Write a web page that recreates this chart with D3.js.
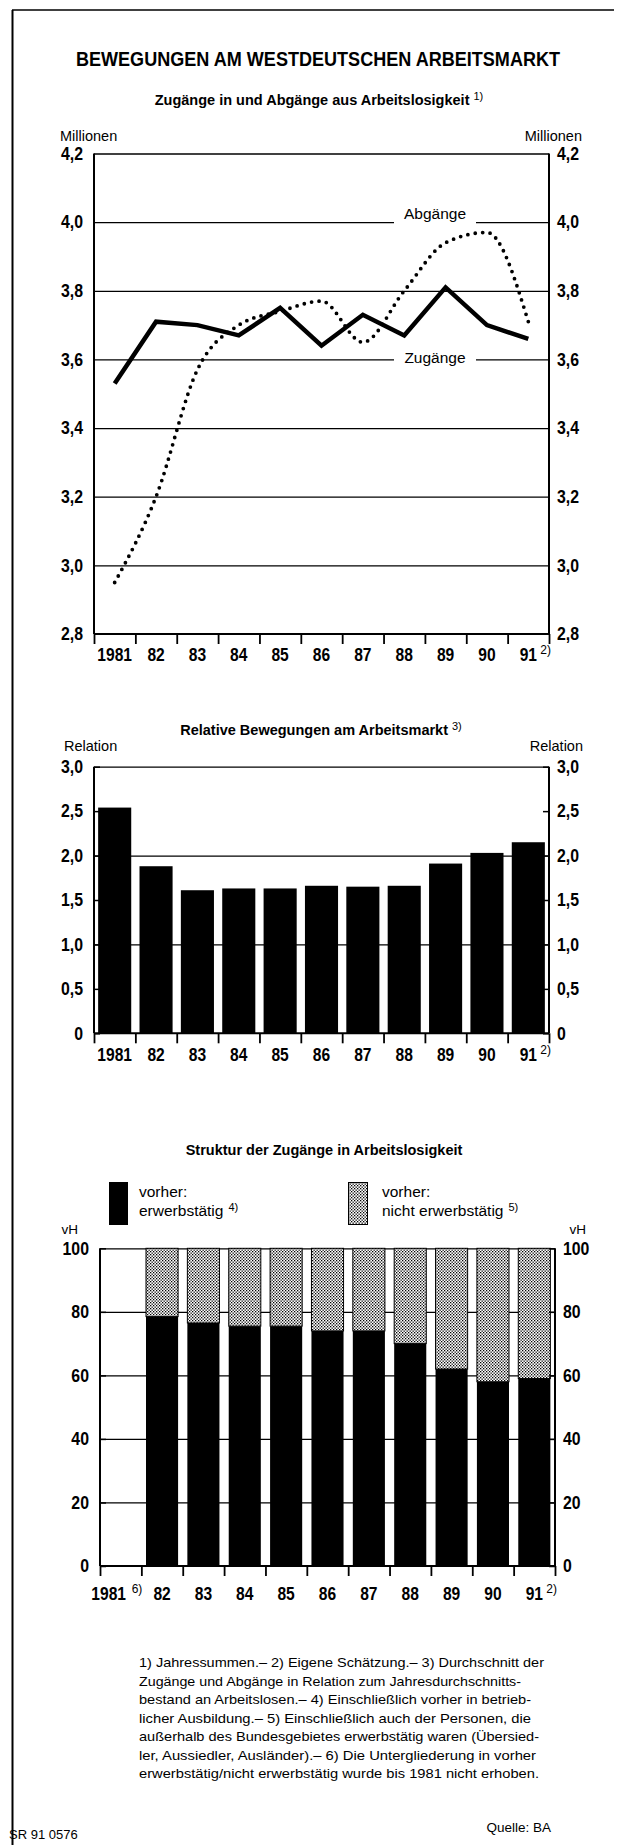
<!DOCTYPE html>
<html><head><meta charset="utf-8">
<script src="https://cdn.jsdelivr.net/npm/d3@7"></script>
<style>body{margin:0;background:#fff}svg{display:block}</style>
</head><body>
<svg id="c" width="624" height="1845"></svg>
<script>
// ---------- DATA ----------
const years = ["1981","82","83","84","85","86","87","88","89","90","91"];
const zugaenge = [3.53, 3.71, 3.70, 3.67, 3.75, 3.64, 3.73, 3.67, 3.81, 3.70, 3.66];
const abgaenge = [2.95, 3.20, 3.57, 3.70, 3.74, 3.77, 3.65, 3.80, 3.94, 3.97, 3.71];
const ticks1 = [2.8, 3.0, 3.2, 3.4, 3.6, 3.8, 4.0, 4.2];
const relation = [2.54, 1.88, 1.61, 1.63, 1.63, 1.66, 1.65, 1.66, 1.91, 2.03, 2.15];
const ticks2 = [0, 0.5, 1.0, 1.5, 2.0, 2.5, 3.0];
const erwerbstaetig = [null, 78.5, 76.5, 75.5, 75.5, 74, 74, 70, 62, 58, 59];
const nichtErwerbstaetig = [null, 21.5, 23.5, 24.5, 24.5, 26, 26, 30, 38, 42, 41];
const ticks3 = [0, 20, 40, 60, 80, 100];
const footnotes = [
  "1) Jahressummen.\u2013 2) Eigene Schätzung.\u2013 3) Durchschnitt der",
  "Zugänge und Abgänge in Relation zum Jahresdurchschnitts-",
  "bestand an Arbeitslosen.\u2013 4) Einschließlich vorher in betrieb-",
  "licher Ausbildung.\u2013 5) Einschließlich auch der Personen, die",
  "außerhalb des Bundesgebietes erwerbstätig waren (Übersied-",
  "ler, Aussiedler, Ausländer).\u2013 6) Die Untergliederung in vorher",
  "erwerbstätig/nicht erwerbstätig wurde bis 1981 nicht erhoben."
];

// ---------- SETUP ----------
const SANS = "'Liberation Sans',Arial,Helvetica,sans-serif";
const svg = d3.select("#c");
const de = (v, d) => v === 0 ? "0" : d3.format("." + d + "f")(v).replace(".", ",");
function condense(sel, f) {
  sel.each(function () {
    const w = this.getComputedTextLength();
    this.setAttribute("textLength", (w * f).toFixed(2));
    this.setAttribute("lengthAdjust", "spacingAndGlyphs");
  });
}

// pattern for "nicht erwerbstätig"
const defs = svg.append("defs");
const pat = defs.append("pattern").attr("id","dots").attr("width",3).attr("height",3)
  .attr("patternUnits","userSpaceOnUse");
pat.append("rect").attr("width",3).attr("height",3).attr("fill","#fff");
pat.append("rect").attr("x",0).attr("y",0).attr("width",1.3).attr("height",1.3).attr("fill","#000");
pat.append("rect").attr("x",1.5).attr("y",1.5).attr("width",1.3).attr("height",1.3).attr("fill","#000");

// frame
svg.append("line").attr("x1",12.5).attr("y1",10).attr("x2",12.5).attr("y2",1845).attr("stroke","#000").attr("stroke-width",2);
svg.append("line").attr("x1",12).attr("y1",10).attr("x2",614).attr("y2",10).attr("stroke","#000").attr("stroke-width",1.3);

// main title (horizontally condensed via transform)
svg.append("g").attr("transform","translate(318,66) scale(0.86,1)")
  .append("text").attr("x",0).attr("y",0).attr("text-anchor","middle")
  .attr("font-family",SANS).attr("font-weight","bold").attr("font-size",21)
  .text("BEWEGUNGEN AM WESTDEUTSCHEN ARBEITSMARKT");

function subtitle(x, y, txt, sup) {
  const t = svg.append("text").attr("x",x).attr("y",y).attr("text-anchor","middle")
    .attr("font-family",SANS).attr("font-weight","bold").attr("font-size",14.5).text(txt);
  if (sup) t.append("tspan").attr("dx",4).attr("dy",-5).attr("font-size",11).attr("font-weight","normal").text(sup);
}

function xAxis(xs, xb, yPos, labelY, sup81) {
  const g = svg.append("g").attr("transform",`translate(0,${yPos})`)
    .call(d3.axisBottom(xb).tickValues(d3.range(years.length + 1)).tickSize(10).tickFormat(""));
  g.select(".domain").remove();
  g.selectAll("line").attr("stroke","#000").attr("stroke-width",1.8);
  const r = xb.range();
  svg.append("line").attr("x1",r[0]).attr("x2",r[1]).attr("y1",yPos).attr("y2",yPos)
    .attr("stroke","#000").attr("stroke-width",2);
  years.forEach((yr) => {
    const cx = xs(yr) + xs.bandwidth() / 2;
    const shift = (yr === "1981" && sup81) ? -12 : 0;
    svg.append("text").attr("x",cx + shift).attr("y",labelY).attr("text-anchor","middle")
      .attr("font-family",SANS).attr("font-weight","bold").attr("font-size",19).text(yr)
      .call(s => condense(s, 0.82));
    if (yr === "1981" && sup81) {
      svg.append("text").attr("x",cx + 11).attr("y",labelY - 7)
        .attr("font-family",SANS).attr("font-size",12).text(sup81);
    }
    if (yr === "91") {
      svg.append("text").attr("x",cx + 12).attr("y",labelY - 7)
        .attr("font-family",SANS).attr("font-size",12).text("2)");
    }
  });
}

function yLabels(y, ticks, xLeft, xRight, fmt) {
  const gl = svg.append("g").attr("transform",`translate(${xLeft},0)`)
    .call(d3.axisLeft(y).tickValues(ticks).tickSize(0).tickPadding(11).tickFormat(fmt));
  const gr = svg.append("g").attr("transform",`translate(${xRight},0)`)
    .call(d3.axisRight(y).tickValues(ticks).tickSize(0).tickPadding(8).tickFormat(fmt));
  [gl, gr].forEach(g => {
    g.select(".domain").remove();
    g.selectAll("text").attr("font-family",SANS).attr("font-weight","bold").attr("font-size",18).attr("fill","#000")
      .call(s => condense(s, 0.88));
  });
}

function grid(y, vals, x0, x1, w) {
  const g = svg.append("g").attr("transform",`translate(${x0},0)`)
    .call(d3.axisRight(y).tickValues(vals).tickSize(x1 - x0).tickFormat(""));
  g.select(".domain").remove();
  g.selectAll("line").attr("stroke","#000").attr("stroke-width",w);
}

// ---------- CHART 1 ----------
const c1 = {l:94, r:549, t:153.5, b:634};
const xs1 = d3.scaleBand().domain(years).range([c1.l, c1.r]).paddingInner(0.2).paddingOuter(0.1);
const xb1 = d3.scaleLinear().domain([0, years.length]).range([c1.l, c1.r]);
const y1 = d3.scaleLinear().domain([2.8, 4.2]).range([c1.b, c1.t]);
const cx1 = (d, i) => xs1(years[i]) + xs1.bandwidth() / 2;

subtitle(319, 105, "Zugänge in und Abgänge aus Arbeitslosigkeit", "1)");
svg.append("text").attr("x",60).attr("y",141).attr("font-family",SANS).attr("font-size",14.5).text("Millionen");
svg.append("text").attr("x",582).attr("y",141).attr("text-anchor","end").attr("font-family",SANS).attr("font-size",14.5).text("Millionen");

grid(y1, ticks1.filter(v => v > 2.8), c1.l, c1.r, 1.3);
svg.append("line").attr("x1",c1.l).attr("x2",c1.l).attr("y1",c1.t).attr("y2",c1.b).attr("stroke","#000").attr("stroke-width",2);
svg.append("line").attr("x1",c1.r).attr("x2",c1.r).attr("y1",c1.t).attr("y2",c1.b).attr("stroke","#000").attr("stroke-width",2);
yLabels(y1, ticks1, c1.l, c1.r, v => de(v, 1));
xAxis(xs1, xb1, c1.b, 661, null);

// series labels with white knockout
[["Abgänge", 4.0, -3], ["Zugänge", 3.6, 4]].forEach(([txt, v, off]) => {
  svg.append("rect").attr("x",394).attr("width",82).attr("y",y1(v) + off - 13).attr("height",18).attr("fill","#fff");
  svg.append("text").attr("x",435).attr("y",y1(v) + off).attr("text-anchor","middle")
    .attr("font-family",SANS).attr("font-size",15.5).text(txt);
});

svg.append("path").datum(abgaenge)
  .attr("d", d3.line().x(cx1).y(d => y1(d)).curve(d3.curveMonotoneX))
  .attr("fill","none").attr("stroke","#000").attr("stroke-width",3.8)
  .attr("stroke-linecap","round").attr("stroke-dasharray","0,7.5");
svg.append("path").datum(zugaenge)
  .attr("d", d3.line().x(cx1).y(d => y1(d)))
  .attr("fill","none").attr("stroke","#000").attr("stroke-width",4.5)
  .attr("stroke-linejoin","miter");

// ---------- CHART 2 ----------
const c2 = {l:94, r:549, t:766.7, b:1033.3};
const xs2 = d3.scaleBand().domain(years).range([c2.l, c2.r]).paddingInner(0.2).paddingOuter(0.1);
const xb2 = d3.scaleLinear().domain([0, years.length]).range([c2.l, c2.r]);
const y2 = d3.scaleLinear().domain([0, 3]).range([c2.b, c2.t]);

subtitle(321, 735, "Relative Bewegungen am Arbeitsmarkt", "3)");
svg.append("text").attr("x",64).attr("y",751).attr("font-family",SANS).attr("font-size",14.5).text("Relation");
svg.append("text").attr("x",583).attr("y",751).attr("text-anchor","end").attr("font-family",SANS).attr("font-size",14.5).text("Relation");

grid(y2, [1.0, 2.0, 3.0], c2.l, c2.r, 1.3);
[c2.l, c2.r].forEach((xx, k) => {
  const g = svg.append("g").attr("transform",`translate(${xx},0)`)
    .call((k ? d3.axisLeft(y2) : d3.axisRight(y2)).tickValues(ticks2).tickSize(6).tickFormat(""));
  g.select(".domain").remove();
  g.selectAll("line").attr("stroke","#000").attr("stroke-width",1.5);
});
svg.append("g").selectAll("rect").data(relation).join("rect")
  .attr("x",(d,i) => xs2(years[i])).attr("width",xs2.bandwidth())
  .attr("y",d => y2(d)).attr("height",d => y2(0) - y2(d)).attr("fill","#000");
svg.append("line").attr("x1",c2.l).attr("x2",c2.l).attr("y1",c2.t).attr("y2",c2.b).attr("stroke","#000").attr("stroke-width",2);
svg.append("line").attr("x1",c2.r).attr("x2",c2.r).attr("y1",c2.t).attr("y2",c2.b).attr("stroke","#000").attr("stroke-width",2);
yLabels(y2, ticks2, c2.l, c2.r, v => de(v, 1));
xAxis(xs2, xb2, c2.b, 1061, null);

// ---------- CHART 3 ----------
const c3 = {l:100, r:555, t:1248.3, b:1566};
const xs3 = d3.scaleBand().domain(years).range([c3.l, c3.r]).paddingInner(0.2).paddingOuter(0.1);
const xb3 = d3.scaleLinear().domain([0, years.length]).range([c3.l, c3.r]);
const y3 = d3.scaleLinear().domain([0, 100]).range([c3.b, c3.t]);

subtitle(324, 1155, "Struktur der Zugänge in Arbeitslosigkeit", null);
// legend
svg.append("rect").attr("x",109).attr("y",1182).attr("width",19).attr("height",43).attr("fill","#000");
svg.append("text").attr("x",139).attr("y",1197).attr("font-family",SANS).attr("font-size",15.5).text("vorher:");
svg.append("text").attr("x",139).attr("y",1216).attr("font-family",SANS).attr("font-size",15.5).text("erwerbstätig")
  .append("tspan").attr("dx",5).attr("dy",-5).attr("font-size",11).text("4)");
svg.append("rect").attr("x",348.5).attr("y",1182.5).attr("width",19).attr("height",42).attr("fill","url(#dots)").attr("stroke","#000").attr("stroke-width",1);
svg.append("text").attr("x",382).attr("y",1197).attr("font-family",SANS).attr("font-size",15.5).text("vorher:");
svg.append("text").attr("x",382).attr("y",1216).attr("font-family",SANS).attr("font-size",15.5).text("nicht erwerbstätig")
  .append("tspan").attr("dx",5).attr("dy",-5).attr("font-size",11).text("5)");
svg.append("text").attr("x",78).attr("y",1234).attr("text-anchor","end").attr("font-family",SANS).attr("font-size",13.5).text("vH");
svg.append("text").attr("x",586).attr("y",1234).attr("text-anchor","end").attr("font-family",SANS).attr("font-size",13.5).text("vH");

grid(y3, [20, 40, 60, 80, 100], c3.l, c3.r, 1.3);
const rows = years.map((yr, i) => ({year: yr, erw: erwerbstaetig[i], nicht: nichtErwerbstaetig[i]})).filter(d => d.erw !== null);
const stack = d3.stack().keys(["erw","nicht"])(rows);
const fills = {erw: "#000", nicht: "url(#dots)"};
stack.forEach(layer => {
  svg.append("g").selectAll("rect").data(layer).join("rect")
    .attr("x", d => xs3(d.data.year) + 0.5).attr("width", xs3.bandwidth() - 1)
    .attr("y", d => y3(d[1])).attr("height", d => y3(d[0]) - y3(d[1]))
    .attr("fill", fills[layer.key])
    .attr("stroke", "#000").attr("stroke-width", layer.key === "nicht" ? 1 : 0);
});
[c3.l, c3.r].forEach((xx, k) => {
  const g = svg.append("g").attr("transform",`translate(${xx},0)`)
    .call((k ? d3.axisLeft(y3) : d3.axisRight(y3)).tickValues(ticks3).tickSize(6).tickFormat(""));
  g.select(".domain").remove();
  g.selectAll("line").attr("stroke","#000").attr("stroke-width",1.5);
});
svg.append("line").attr("x1",c3.l).attr("x2",c3.l).attr("y1",c3.t).attr("y2",c3.b).attr("stroke","#000").attr("stroke-width",2);
svg.append("line").attr("x1",c3.r).attr("x2",c3.r).attr("y1",c3.t).attr("y2",c3.b).attr("stroke","#000").attr("stroke-width",2);
yLabels(y3, ticks3, c3.l, c3.r, d3.format("d"));
xAxis(xs3, xb3, c3.b, 1600, "6)");

// ---------- FOOTNOTES ----------
const fnWidths = [405, 382, 392, 392, 400, 397, 400];
footnotes.forEach((line, i) => {
  svg.append("text").attr("x",139).attr("y",1667 + i * 18.5)
    .attr("font-family",SANS).attr("font-size",13.5)
    .attr("textLength",fnWidths[i]).attr("lengthAdjust","spacingAndGlyphs").text(line);
});
svg.append("text").attr("x",9).attr("y",1839).attr("font-family",SANS).attr("font-size",13).text("SR 91 0576");
svg.append("text").attr("x",551).attr("y",1832).attr("text-anchor","end").attr("font-family",SANS).attr("font-size",13.5).text("Quelle: BA");
</script>
</body></html>
